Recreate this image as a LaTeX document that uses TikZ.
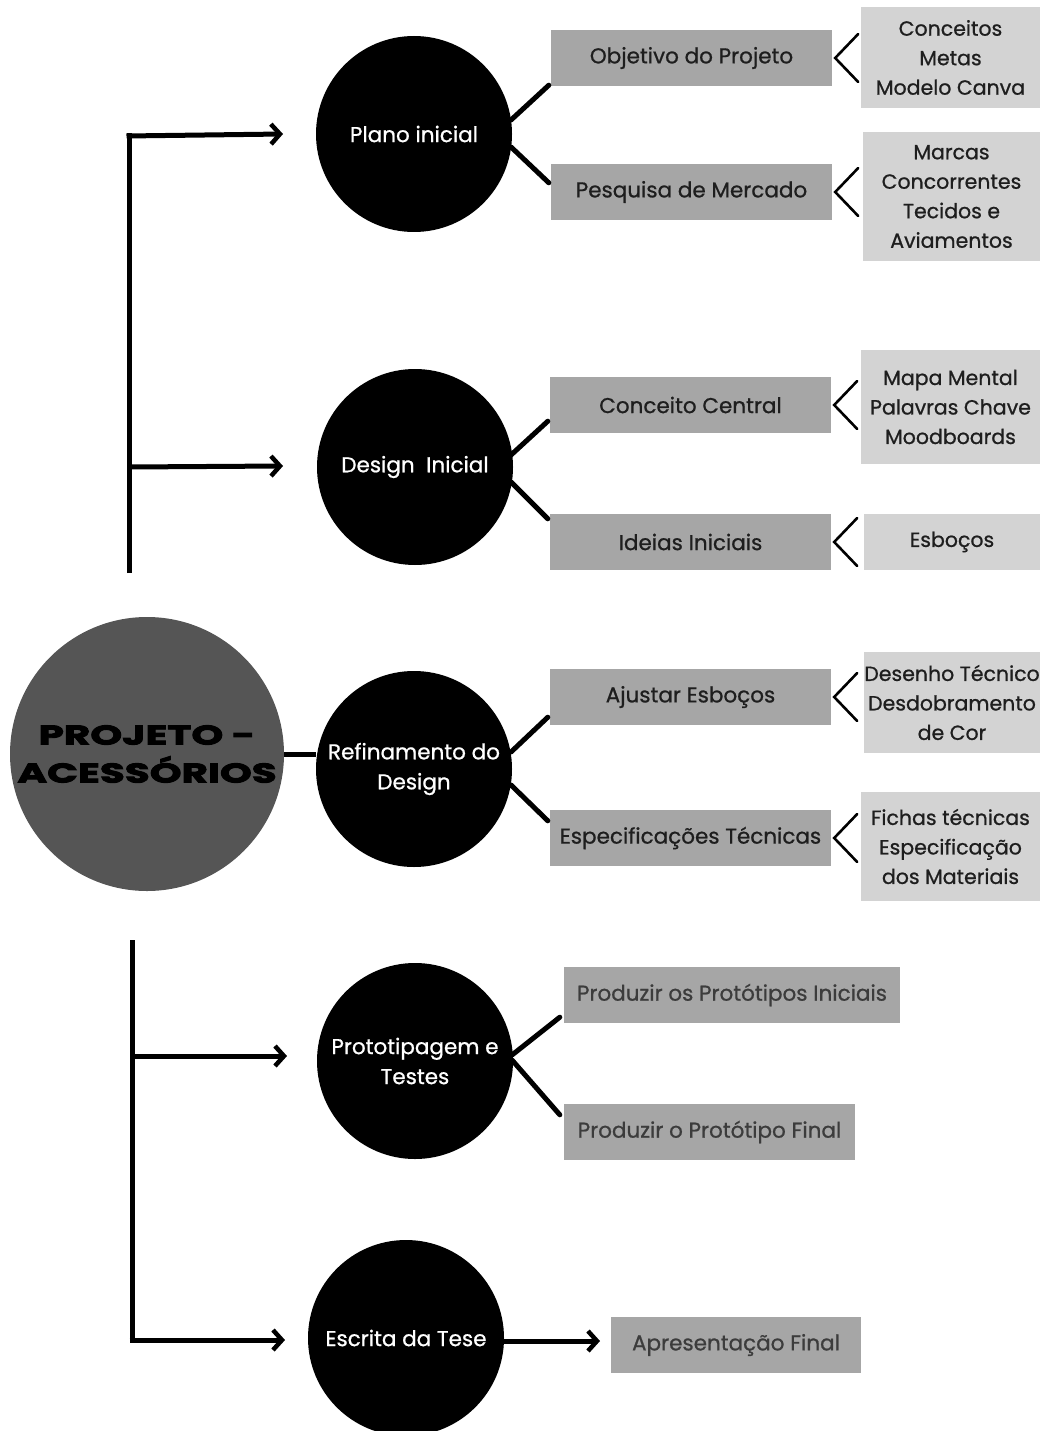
\documentclass[tikz,border=0pt]{standalone}
\usepackage{fontspec}
\setmainfont{Poppins}[FakeBold=0.8]
\newfontfamily\titlefont[FakeStretch=1.5,FakeBold=3.5]{Poppins}
\usetikzlibrary{arrows.meta,calc}
\definecolor{maingray}{HTML}{555555}
\definecolor{midgray}{HTML}{A6A6A6}
\definecolor{litegray}{HTML}{D3D3D3}
\definecolor{txtdark}{HTML}{1E1E1E}
\definecolor{txtsoft}{HTML}{3C3C3C}
\tikzset{
  x=1pt, y=-1pt,
  phase/.style={circle, fill=black, text=white, minimum size=196pt, inner sep=0pt, align=center,
    font=\fontsize{21.5}{30}\selectfont},
  midbox/.style={fill=midgray, minimum height=56pt, inner sep=0pt, text=txtdark,
    font=\fontsize{21.5}{30}\selectfont},
  litebox/.style={fill=litegray, inner sep=0pt, align=center, text=txtdark,
    font=\fontsize{20.5}{29.5}\selectfont},
  thickline/.style={line width=5pt, line cap=round},
  arr/.style={line width=5pt, -{Straight Barb[length=9pt,width=20pt,line width=4.5pt]}},
  chev/.style={line width=2.6pt, line cap=round, line join=miter},
}
\begin{document}
\begin{tikzpicture}
\useasboundingbox (0,0) rectangle (1040,1431);
\clip (0,0) rectangle (1040,1431);

% main circle
\node[circle, fill=maingray, minimum size=274pt, inner sep=0pt, align=center,
  font=\titlefont\bfseries\fontsize{27}{38}\selectfont, text=black] (main) at (147,754)
  {PROJETO -\\ACESSÓRIOS};

% phase circles
\node[phase] (plano) at (414,134) {Plano inicial};
\node[phase] (design) at (415,467) {Design\ \ Inicial};
\node[phase] (refin) at (414,769) {Refinamento do\\Design};
\node[phase] (proto) at (415,1061) {Prototipagem e\\Testes};
\node[phase] (tese) at (406,1338) {Escrita da Tese};

% middle boxes
\node[midbox, minimum width=281pt] (obj) at (691.5,58) {Objetivo do Projeto};
\node[midbox, minimum width=281pt] (pesq) at (691.5,192) {Pesquisa de Mercado};
\node[midbox, minimum width=281pt] (conc) at (690.5,405) {Conceito Central};
\node[midbox, minimum width=281pt] (ideias) at (690.5,542) {Ideias Iniciais};
\node[midbox, minimum width=281pt] (ajust) at (690.5,697) {Ajustar Esboços};
\node[midbox, minimum width=281pt] (espec) at (690.5,838) {Especificações Técnicas};
\node[midbox, minimum width=336pt, text=txtsoft] (prodi) at (732,995) {Produzir os Protótipos Iniciais};
\node[midbox, minimum width=291pt, text=txtsoft] (prodf) at (709.5,1132) {Produzir o Protótipo Final};
\node[midbox, minimum width=250pt, text=txtsoft] (apres) at (736,1345) {Apresentação Final};

% light boxes
\node[litebox, minimum width=179pt, minimum height=101pt] (l1) at (950.5,57.5) {Conceitos\\Metas\\Modelo Canva};
\node[litebox, minimum width=177pt, minimum height=129pt] (l2) at (951.5,196.5) {Marcas\\Concorrentes\\Tecidos e\\Aviamentos};
\node[litebox, minimum width=179pt, minimum height=114pt] (l3) at (950.5,407) {Mapa Mental\\Palavras Chave\\Moodboards};
\node[litebox, minimum width=176pt, minimum height=56pt] (l4) at (952,542) {Esboços};
\node[litebox, minimum width=176pt, minimum height=101pt] (l5) at (952,702.5) {Desenho Técnico\\Desdobramento\\de Cor};
\node[litebox, minimum width=179pt, minimum height=109pt] (l6) at (950.5,846.5) {Fichas técnicas\\Especificação\\dos Materiais};

% left brackets
\coordinate (tb) at (129,573);
\coordinate (tc) at (129,136);
\coordinate (ta) at (283,134);
\coordinate (td) at (129,467);
\coordinate (te) at (283,466);
\coordinate (bb) at (132,940);
\coordinate (bc) at (132,1340);
\coordinate (bd) at (132,1056);
\coordinate (be) at (287,1056);
\coordinate (bf) at (285,1340);
\draw[line width=5pt] (tb) -- ($(tc)+(0,-2.5)$);
\draw[arr] ($(tc)+(-2.5,0)$) -- (ta);
\draw[arr] (td) -- (te);
\draw[line width=5pt] (bb) -- ($(bc)+(0,2.5)$);
\draw[arr] (bd) -- (be);
\draw[arr] ($(bc)+(-2.5,0)$) -- (bf);

% main to refinement
\draw[line width=5pt] (main.east) -- (main.east -| refin.west);

% escrita arrow
\coordinate (tesex) at (600,1341);
\draw[arr] (tese.east |- tesex) -- (tesex);

% diagonal connectors
\draw[thickline] ($(plano.center)+(97,-14)$) -- ($(obj.south west)+(-2,-1)$);
\draw[thickline] ($(plano.center)+(97,13)$) -- ($(pesq.north west)+(-2,19)$);
\draw[thickline] ($(design.center)+(96,-12)$) -- ($(conc.south west)+(-2,-12)$);
\draw[thickline] ($(design.center)+(96,15)$) -- ($(ideias.north west)+(-2,5)$);
\draw[thickline] ($(refin.center)+(97,-17)$) -- ($(ajust.south west)+(-2,-8)$);
\draw[thickline] ($(refin.center)+(97,16)$) -- ($(espec.north west)+(-2,11)$);
\draw[thickline] ($(proto.center)+(97,-6)$) -- ($(prodi.south west)+(-4,-6)$);
\draw[thickline] ($(proto.center)+(97,-1)$) -- ($(prodf.north west)+(-4,11)$);

% chevrons
\foreach \m in {obj, pesq, conc, ideias, ajust, espec}{
  \draw[chev] ($(\m.east)+(26,-24)$) -- ($(\m.east)+(3,0)$) -- ($(\m.east)+(26,24)$);
}
\end{tikzpicture}
\end{document}
